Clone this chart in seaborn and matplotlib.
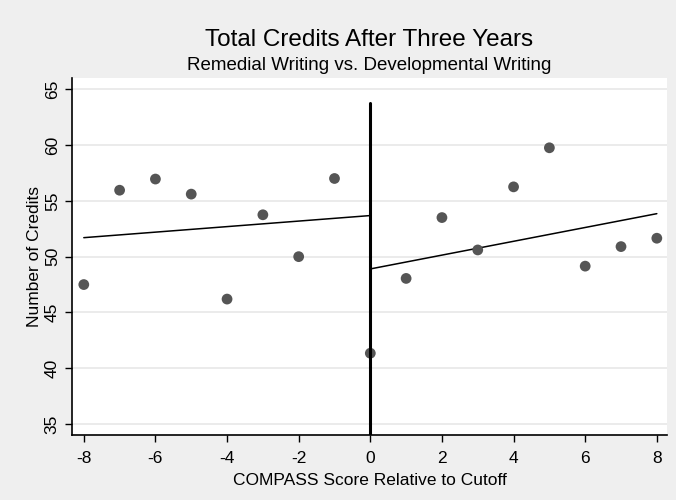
import numpy as np
import pandas as pd
import matplotlib
matplotlib.use('Agg')
import matplotlib.pyplot as plt
import seaborn as sns

# Data
score   = [-8, -7, -6, -5, -4, -3, -2, -1, 0, 1, 2, 3, 4, 5, 6, 7, 8]
credits = [47.5, 55.95, 56.95, 55.6, 46.2, 53.75, 50.0, 57.0, 41.35,
           48.05, 53.5, 50.6, 56.25, 59.75, 49.15, 50.9, 51.65]

# fitted lines, endpoints as drawn
fit_left_x  = [-8, 0]
fit_left_y  = [51.7, 53.68]
fit_right_x = [0, 8]
fit_right_y = [48.9, 53.85]

cutoff_x   = [0, 0]
cutoff_y   = [34, 63.75]

xticks = [-8, -6, -4, -2, 0, 2, 4, 6, 8]
yticks = [35, 40, 45, 50, 55, 60, 65]

df = pd.DataFrame({'score': score, 'credits': credits})

sns.set_style('white')
plt.rcParams['font.family'] = ['Liberation Sans', 'DejaVu Sans']
plt.rcParams['text.color'] = 'black'
plt.rcParams['axes.labelcolor'] = 'black'
plt.rcParams['xtick.color'] = 'black'
plt.rcParams['ytick.color'] = 'black'

fig = plt.figure(figsize=(6.76, 5), dpi=100, facecolor='#efefef')
ax = fig.add_axes([0.107, 0.1294, 0.880, 0.7146])
ax.set_facecolor('white')

ax.set_xlim(-8.32, 8.29)
ax.set_ylim(34, 66)

for yv in yticks:
    ax.axhline(yv, color='#e8e8e8', lw=1.2, zorder=0)

sns.lineplot(x=fit_left_x, y=fit_left_y, color='black', lw=1.1, ax=ax, zorder=2)
sns.lineplot(x=fit_right_x, y=fit_right_y, color='black', lw=1.1, ax=ax, zorder=2)
sns.scatterplot(data=df, x='score', y='credits', color='#555555', s=60,
                edgecolor='none', ax=ax, zorder=3)
ax.plot(cutoff_x, cutoff_y, color='black', lw=2.2, zorder=4)

ax.set_xticks(xticks)
ax.set_yticks(yticks)
ax.set_xticklabels([str(t) for t in xticks], fontsize=12.5)
ax.set_yticklabels([str(t) for t in yticks], fontsize=12.5, rotation=90, va='center')
ax.tick_params(axis='both', direction='out', length=5, width=1, color='black',
               bottom=True, left=True)
ax.tick_params(axis='x', pad=6)
ax.tick_params(axis='y', pad=4)

for s in ['top', 'right']:
    ax.spines[s].set_visible(False)
for s in ['left', 'bottom']:
    ax.spines[s].set_color('black')
    ax.spines[s].set_linewidth(1.2)

ax.set_xlabel('COMPASS Score Relative to Cutoff', fontsize=12.5, labelpad=5)
ax.set_ylabel('Number of Credits', fontsize=12.5, labelpad=2)

fig.text(0.546, 0.921, 'Total Credits After Three Years', ha='center', va='center', fontsize=17.5)
fig.text(0.546, 0.869, 'Remedial Writing vs. Developmental Writing', ha='center', va='center', fontsize=13.5)

fig.savefig('out.png', dpi=100, facecolor=fig.get_facecolor())
